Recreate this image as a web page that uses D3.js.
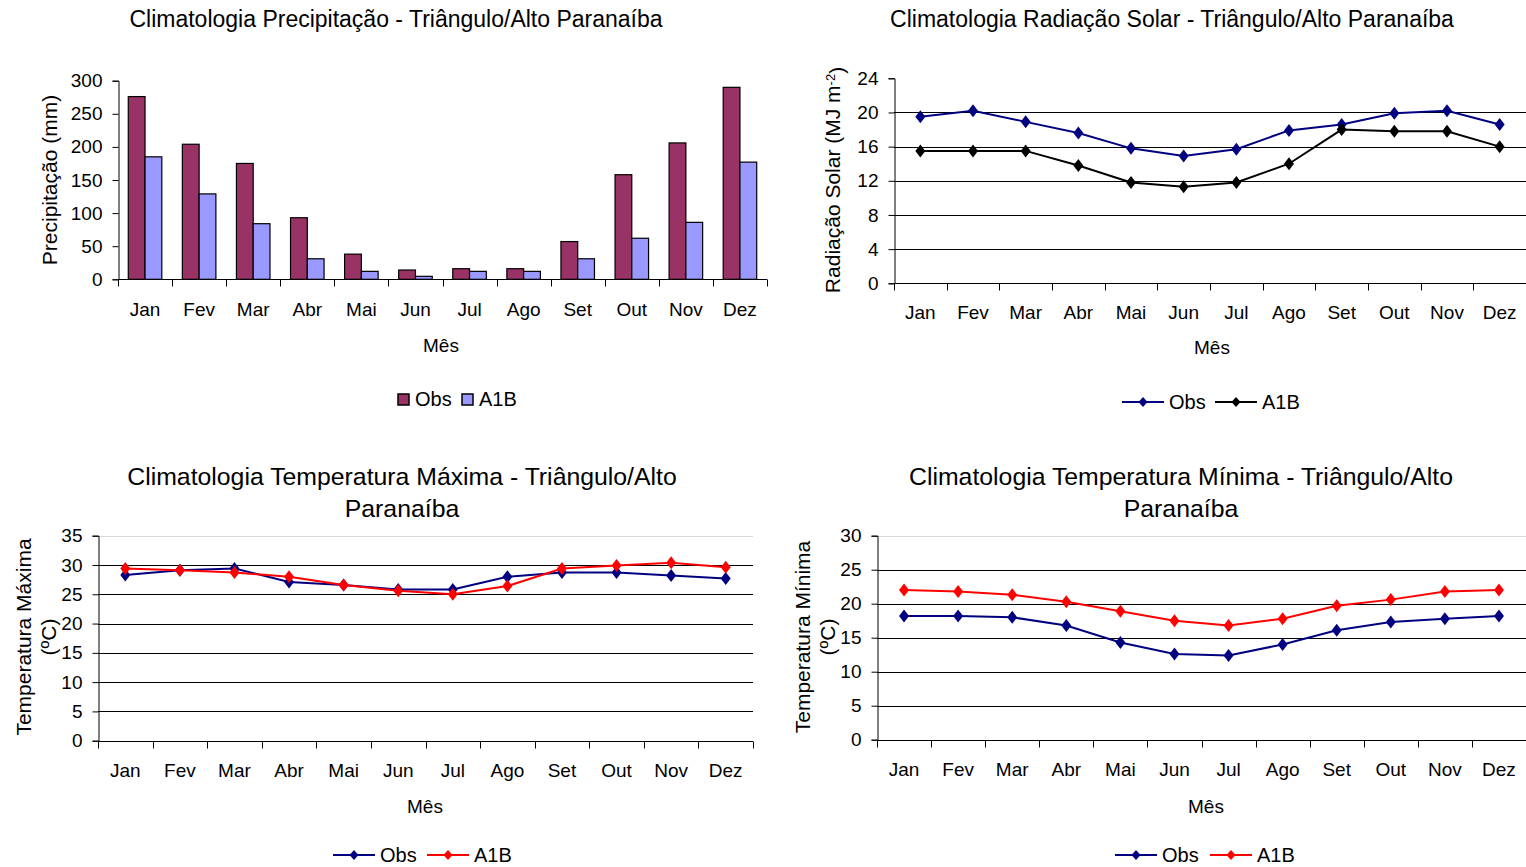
<!DOCTYPE html>
<html>
<head>
<meta charset="utf-8">
<script src="https://cdn.jsdelivr.net/npm/d3@7"></script>
<style>
  body { margin: 0; background: #fff; }
  svg { display: block; font-family: "Liberation Sans", Arial, sans-serif; }
</style>
</head>
<body>
<svg width="1526" height="867"></svg>
<script>
// month labels
var months = ["Jan","Fev","Mar","Abr","Mai","Jun","Jul","Ago","Set","Out","Nov","Dez"];

// precipitation (mm)
var precObs = [276, 204, 175, 93, 38, 14, 16, 16, 57, 158, 206, 290];
var precA1B = [185, 129, 84, 31, 12, 4.5, 12, 12, 31, 62, 86, 177];
var precTicks = [0, 50, 100, 150, 200, 250, 300];

// solar radiation (MJ m-2)
var radObs = [19.5, 20.2, 18.9, 17.6, 15.8, 14.9, 15.7, 17.9, 18.6, 19.9, 20.2, 18.6];
var radA1B = [15.5, 15.5, 15.5, 13.8, 11.8, 11.3, 11.8, 14.0, 18.0, 17.8, 17.8, 16.0];
var radTicks = [0, 4, 8, 12, 16, 20, 24];

// max temperature
var tmaxObs = [28.3, 29.1, 29.4, 27.1, 26.6, 25.8, 25.8, 28.0, 28.7, 28.7, 28.2, 27.7];
var tmaxA1B = [29.4, 29.1, 28.7, 28.0, 26.6, 25.6, 25.0, 26.4, 29.4, 29.9, 30.4, 29.6];
var tmaxTicks = [0, 5, 10, 15, 20, 25, 30, 35];

// min temperature
var tminObs = [18.2, 18.2, 18.0, 16.8, 14.3, 12.6, 12.4, 14.0, 16.1, 17.3, 17.8, 18.2];
var tminA1B = [22.0, 21.8, 21.3, 20.3, 18.9, 17.5, 16.8, 17.8, 19.7, 20.6, 21.8, 22.0];
var tminTicks = [0, 5, 10, 15, 20, 25, 30];

var svg = d3.select("svg");

var navy = "#000080", red = "#ff0000";
var diamond = "M0,-6.5L5,0L0,6.5L-5,0Z";

function drawPanel(o) {
  var g = svg.append("g");
  var x = d3.scaleBand().domain(months).range([o.x0, o.x1]);
  var y = d3.scaleLinear().domain([0, o.ticks[o.ticks.length - 1]]).range([o.yb, o.yt]);

  // title
  var t = g.append("text").attr("x", o.tx).attr("text-anchor", "middle")
      .style("font-size", o.tsize + "px").attr("fill", "#000");
  o.title.forEach(function(line, i) {
    t.append("tspan").attr("x", o.tx).attr("y", o.ty + i * 32).attr("dy", "0.35em").text(line);
  });

  // grid (top line: "light", "none" or black)
  if (o.grid) {
    var last = o.ticks.length - 2;
    g.append("g").selectAll("line")
      .data(o.ticks.slice(1).filter(function(d, i) { return !(o.top == "none" && i == last); }))
      .enter().append("line")
      .attr("x1", o.x0).attr("x2", o.x1)
      .attr("y1", function(d) { return Math.round(y(d)) + 0.5; })
      .attr("y2", function(d) { return Math.round(y(d)) + 0.5; })
      .attr("stroke", function(d, i) { return (o.top == "light" && i == last) ? "#d8d8d8" : "#000"; })
      .attr("stroke-width", 1);
  }

  // y axis
  var ya = g.append("g").attr("transform", "translate(" + (Math.round(o.x0) + 0.5) + ",0)")
      .call(d3.axisLeft(y).tickValues(o.ticks).tickSize(6).tickPadding(10));
  ya.select(".domain").attr("stroke", "#000");
  ya.selectAll("text").style("font-size", "19px").attr("fill", "#000");

  // x axis
  var xa = g.append("g").attr("transform", "translate(0," + (Math.round(o.yb) + 0.5) + ")");
  xa.append("line").attr("x1", o.x0).attr("x2", o.x1).attr("stroke", "#000");
  xa.selectAll(".tk").data(months.concat(["end"])).enter().append("line")
    .attr("x1", function(d, i) { return Math.round(o.x0 + i * x.step()) + 0.5; })
    .attr("x2", function(d, i) { return Math.round(o.x0 + i * x.step()) + 0.5; })
    .attr("y1", 0).attr("y2", 7).attr("stroke", "#000");
  xa.selectAll(".lbl").data(months).enter().append("text")
    .attr("x", function(d) { return x(d) + x.bandwidth() / 2; })
    .attr("y", o.mly - o.yb).attr("dy", "0.35em")
    .attr("text-anchor", "middle").style("font-size", "19px").text(function(d) { return d; });

  g.append("text").attr("x", o.mx).attr("y", o.my).attr("dy", "0.35em")
    .attr("text-anchor", "middle").style("font-size", "19px").text("Mês");

  // y label
  var yl = g.append("text").attr("transform", "translate(" + o.ylx + "," + o.yly + ") rotate(-90)")
      .attr("text-anchor", "middle").style("font-size", "21px");
  o.ylabel(yl);

  return { g: g, x: x, y: y };
}

function drawLines(p, series, colors) {
  series.forEach(function(s, k) {
    var line = d3.line()
      .x(function(d, i) { return p.x(months[i]) + p.x.bandwidth() / 2; })
      .y(function(d) { return p.y(d); });
    p.g.append("path").datum(s).attr("d", line)
      .attr("fill", "none").attr("stroke", colors[k]).attr("stroke-width", 2);
    p.g.append("g").selectAll("path").data(s).enter().append("path")
      .attr("d", diamond)
      .attr("transform", function(d, i) { return "translate(" + (p.x(months[i]) + p.x.bandwidth() / 2) + "," + p.y(d) + ")"; })
      .attr("fill", colors[k]);
  });
}

function lineLegend(items, cy) {
  var lg = svg.append("g");
  items.forEach(function(it) {
    lg.append("line").attr("x1", it.x).attr("x2", it.x + 42).attr("y1", cy).attr("y2", cy)
      .attr("stroke", it.c).attr("stroke-width", 2);
    lg.append("path").attr("d", "M0,-5L4.5,0L0,5L-4.5,0Z")
      .attr("transform", "translate(" + (it.x + 21) + "," + cy + ")").attr("fill", it.c);
    lg.append("text").attr("x", it.x + 47).attr("y", cy).attr("dy", "0.35em")
      .style("font-size", "20px").text(it.label);
  });
}

// ---- precipitation ----
var p1 = drawPanel({
  x0: 118, x1: 767, yb: 279.3, yt: 80.7, ticks: precTicks, grid: false,
  title: ["Climatologia Precipitação - Triângulo/Alto Paranaíba"], tx: 396, ty: 19, tsize: 23,
  mly: 309, mx: 441, my: 345,
  ylx: 50, yly: 180,
  ylabel: function(t) { t.attr("dy", "0.35em").text("Precipitação (mm)"); }
});
var bw = p1.x.step() * 0.31;
[precObs, precA1B].forEach(function(s, k) {
  p1.g.append("g").selectAll("rect").data(s).enter().append("rect")
    .attr("x", function(d, i) { return p1.x(months[i]) + p1.x.bandwidth() / 2 - bw + k * bw; })
    .attr("y", function(d) { return p1.y(d); })
    .attr("width", bw)
    .attr("height", function(d) { return p1.y(0) - p1.y(d); })
    .attr("fill", k == 0 ? "#993366" : "#9999ff")
    .attr("stroke", "#000").attr("stroke-width", 1.2);
});
var lg1 = svg.append("g");
[{x: 398, c: "#993366", l: "Obs"}, {x: 462, c: "#9999ff", l: "A1B"}].forEach(function(it) {
  lg1.append("rect").attr("x", it.x).attr("y", 394).attr("width", 11).attr("height", 11)
    .attr("fill", it.c).attr("stroke", "#000").attr("stroke-width", 1.5);
  lg1.append("text").attr("x", it.x + 17).attr("y", 399).attr("dy", "0.35em")
    .style("font-size", "20px").text(it.l);
});

// ---- radiation ----
var p2 = drawPanel({
  x0: 894, x1: 1526, yb: 283.3, yt: 78.3, ticks: radTicks, grid: true, top: "none",
  title: ["Climatologia Radiação Solar - Triângulo/Alto Paranaíba"], tx: 1172, ty: 19, tsize: 23,
  mly: 312, mx: 1212, my: 347,
  ylx: 833, yly: 180,
  ylabel: function(t) {
    t.attr("dy", "0.35em");
    t.append("tspan").text("Radiação Solar (MJ m");
    t.append("tspan").attr("dy", "-0.45em").style("font-size", "13px").text("-2");
    t.append("tspan").attr("dy", "0.45em").text(")");
  }
});
drawLines(p2, [radObs, radA1B], [navy, "#000"]);
lineLegend([{x: 1122, c: navy, label: "Obs"}, {x: 1215, c: "#000", label: "A1B"}], 402);

// ---- max temperature ----
var p3 = drawPanel({
  x0: 98, x1: 753, yb: 740.7, yt: 535.7, ticks: tmaxTicks, grid: true, top: "light",
  title: ["Climatologia Temperatura Máxima - Triângulo/Alto", "Paranaíba"], tx: 402, ty: 476, tsize: 24.8,
  mly: 770, mx: 425, my: 806,
  ylx: 24, yly: 637,
  ylabel: function(t) {
    t.append("tspan").attr("x", 0).attr("dy", "0.35em").text("Temperatura Máxima");
    t.append("tspan").attr("x", 0).attr("dy", "1.15em").text("(ºC)");
  }
});
drawLines(p3, [tmaxObs, tmaxA1B], [navy, red]);
lineLegend([{x: 333, c: navy, label: "Obs"}, {x: 427, c: red, label: "A1B"}], 855);

// ---- min temperature ----
var p4 = drawPanel({
  x0: 877, x1: 1526, yb: 739.7, yt: 535.7, ticks: tminTicks, grid: true, top: "light",
  title: ["Climatologia Temperatura Mínima - Triângulo/Alto", "Paranaíba"], tx: 1181, ty: 476, tsize: 24.8,
  mly: 769, mx: 1206, my: 806,
  ylx: 803, yly: 637,
  ylabel: function(t) {
    t.append("tspan").attr("x", 0).attr("dy", "0.35em").text("Temperatura Mínima");
    t.append("tspan").attr("x", 0).attr("dy", "1.15em").text("(ºC)");
  }
});
drawLines(p4, [tminObs, tminA1B], [navy, red]);
lineLegend([{x: 1115, c: navy, label: "Obs"}, {x: 1210, c: red, label: "A1B"}], 855);
</script>
</body>
</html>
